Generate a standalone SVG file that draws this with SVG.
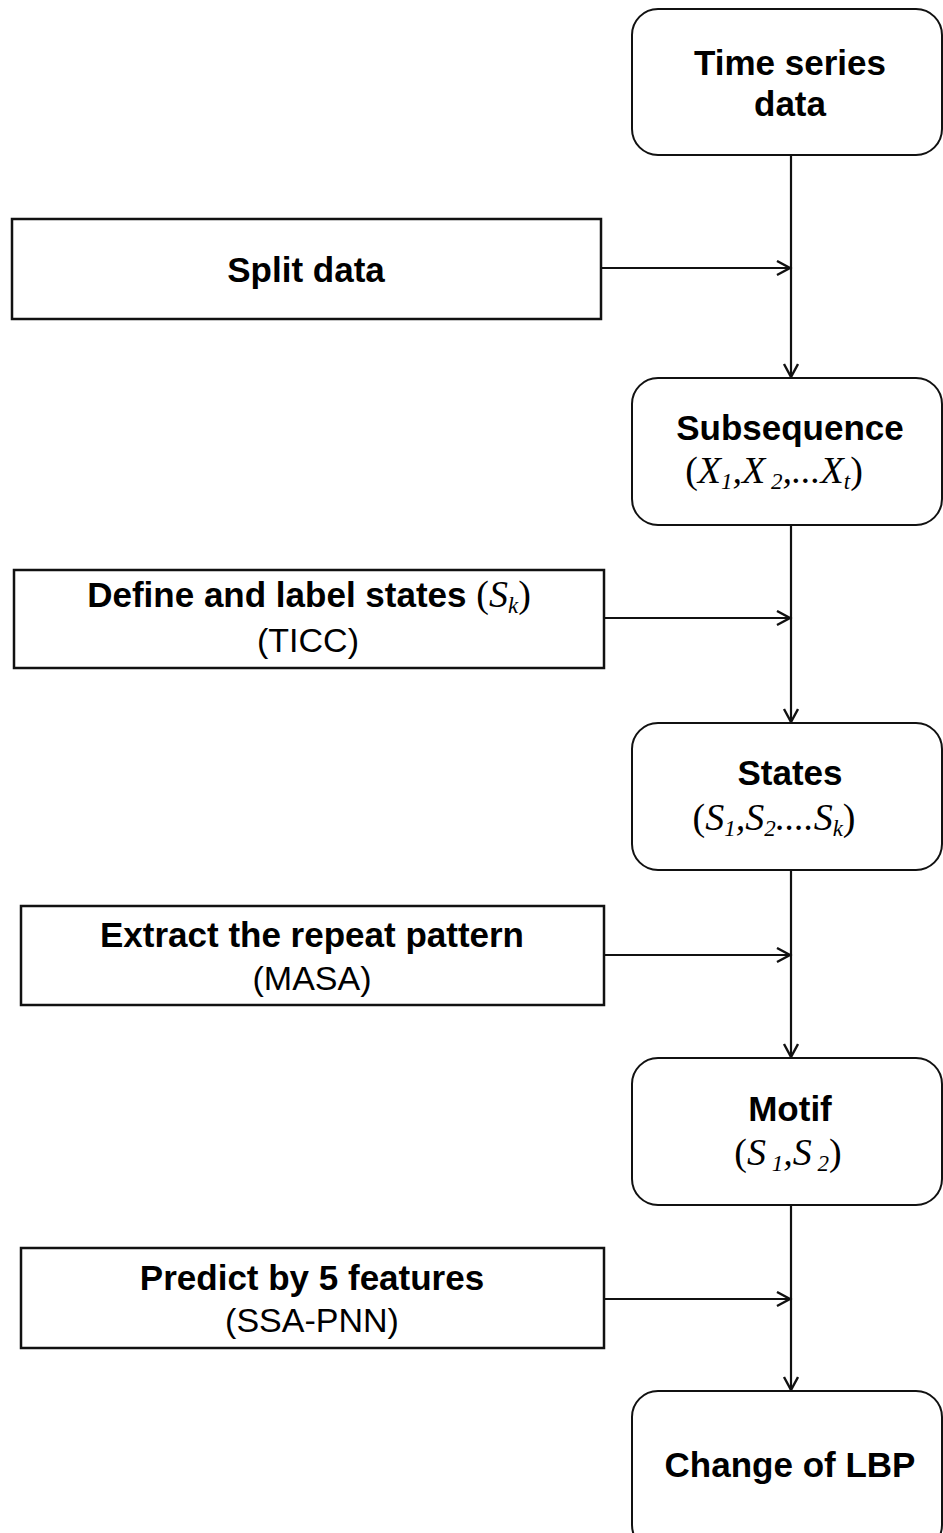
<svg xmlns="http://www.w3.org/2000/svg" width="943" height="1533" viewBox="0 0 943 1533">
<style>
.rbox{fill:#fff;stroke:#111;stroke-width:2}
.sbox{fill:#fff;stroke:#111;stroke-width:2.5}
.b{font-family:"Liberation Sans",Arial,sans-serif;font-weight:bold;font-size:35px;fill:#000;text-anchor:middle}
.r{font-family:"Liberation Sans",Arial,sans-serif;font-size:34px;fill:#000;text-anchor:middle}
.m{font-family:"Liberation Serif","Times New Roman",serif;font-style:italic;font-weight:normal;font-size:38px;fill:#000;text-anchor:middle}
.p{font-style:normal}
.sub{font-size:23px}
.c{stroke:#111;stroke-width:2.2;fill:none}
</style>
<defs>
<marker id="arr" markerUnits="userSpaceOnUse" markerWidth="18" markerHeight="18" refX="15" refY="8" orient="auto">
<path d="M2,1 L15,8 L2,15" fill="none" stroke="#111" stroke-width="2.4"/>
</marker>
</defs>
<rect width="943" height="1533" fill="#fff"/>
<g id="connectors">
<line class="c" x1="791" y1="156" x2="791" y2="377" marker-end="url(#arr)"/>
<line class="c" x1="791" y1="525" x2="791" y2="722" marker-end="url(#arr)"/>
<line class="c" x1="791" y1="870" x2="791" y2="1057" marker-end="url(#arr)"/>
<line class="c" x1="791" y1="1205" x2="791" y2="1390" marker-end="url(#arr)"/>
<line class="c" x1="601" y1="268" x2="790" y2="268" marker-end="url(#arr)"/>
<line class="c" x1="604" y1="618" x2="790" y2="618" marker-end="url(#arr)"/>
<line class="c" x1="604" y1="955" x2="790" y2="955" marker-end="url(#arr)"/>
<line class="c" x1="604" y1="1299" x2="790" y2="1299" marker-end="url(#arr)"/>
</g>
<g id="n1">
<rect class="rbox" x="632" y="9" width="310" height="146" rx="26"/>
<text class="b" x="790" y="75">Time series</text>
<text class="b" x="790" y="116">data</text>
</g>
<g id="n2">
<rect class="sbox" x="12" y="219" width="589" height="100"/>
<text class="b" x="306" y="282">Split data</text>
</g>
<g id="n3">
<rect class="rbox" x="632" y="378" width="310" height="147" rx="26"/>
<text class="b" x="790" y="440">Subsequence</text>
<text class="m" x="774" y="483"><tspan class="p">(</tspan>X<tspan class="sub" dy="6">1</tspan><tspan dy="-6">,X</tspan><tspan class="sub" dy="6"> 2</tspan><tspan dy="-6">,...X</tspan><tspan class="sub" dy="6">t</tspan><tspan class="p" dy="-6">)</tspan></text>
</g>
<g id="n4">
<rect class="sbox" x="14" y="570" width="590" height="98"/>
<text class="b" x="309" y="607">Define and label states <tspan class="m" font-size="34"><tspan class="p">(</tspan>S<tspan class="sub" dy="6">k</tspan><tspan class="p" dy="-6">)</tspan></tspan></text>
<text class="r" x="308" y="652">(TICC)</text>
</g>
<g id="n5">
<rect class="rbox" x="632" y="723" width="310" height="147" rx="26"/>
<text class="b" x="790" y="785">States</text>
<text class="m" x="774" y="830"><tspan class="p">(</tspan>S<tspan class="sub" dy="6">1</tspan><tspan dy="-6">,S</tspan><tspan class="sub" dy="6">2</tspan><tspan dy="-6">....S</tspan><tspan class="sub" dy="6">k</tspan><tspan class="p" dy="-6">)</tspan></text>
</g>
<g id="n6">
<rect class="sbox" x="21" y="906" width="583" height="99"/>
<text class="b" x="312" y="947">Extract the repeat pattern</text>
<text class="r" x="312" y="990">(MASA)</text>
</g>
<g id="n7">
<rect class="rbox" x="632" y="1058" width="310" height="147" rx="26"/>
<text class="b" x="790" y="1121">Motif</text>
<text class="m" x="788" y="1165"><tspan class="p">(</tspan>S<tspan class="sub" dy="6"> 1</tspan><tspan dy="-6">,S</tspan><tspan class="sub" dy="6"> 2</tspan><tspan class="p" dy="-6">)</tspan></text>
</g>
<g id="n8">
<rect class="sbox" x="21" y="1248" width="583" height="100"/>
<text class="b" x="312" y="1290">Predict by 5 features</text>
<text class="r" x="312" y="1332">(SSA-PNN)</text>
</g>
<g id="n9">
<rect class="rbox" x="632" y="1391" width="310" height="160" rx="26"/>
<text class="b" x="790" y="1477">Change of LBP</text>
</g>
</svg>
